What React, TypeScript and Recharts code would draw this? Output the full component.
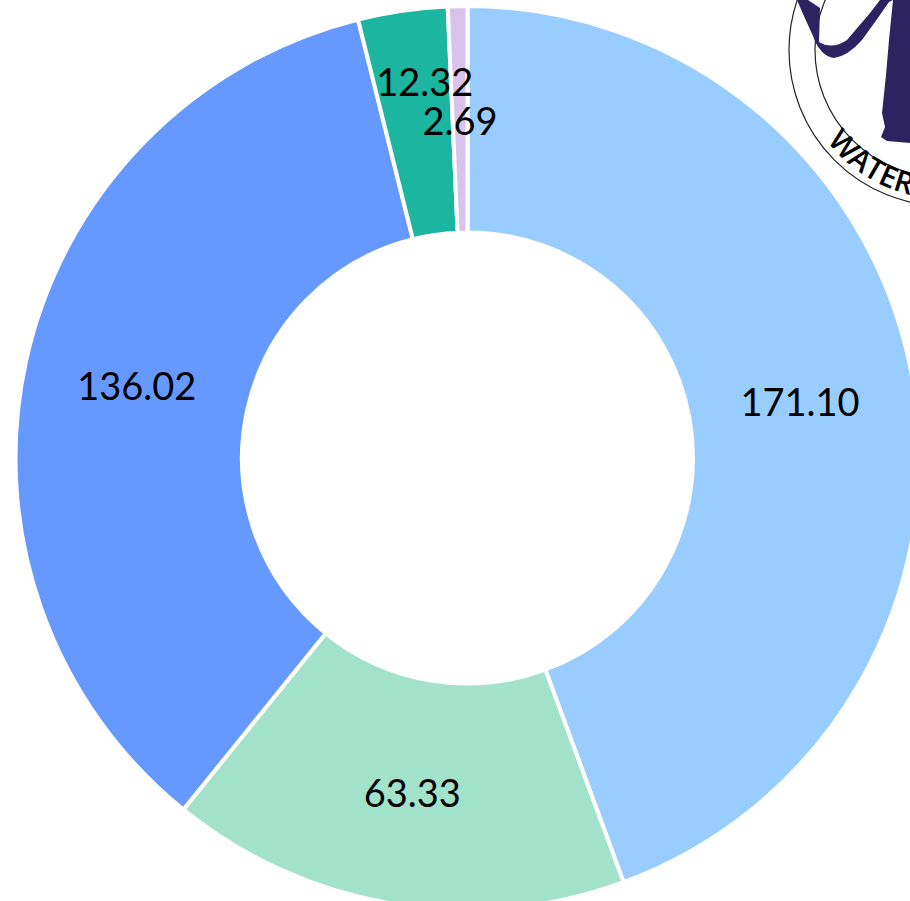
import React from "react";
import { PieChart, Pie, Cell } from "recharts";

const categories = ["A", "B", "C", "D", "E"];
const values = [171.1, 63.33, 136.02, 12.32, 2.69];
const valueLabels = ["171.10", "63.33", "136.02", "12.32", "2.69"];
const colors = ["#99CCFF", "#A3E2CA", "#6699FF", "#1BB5A0", "#D9C3EA"];
const labelNudges = [[-1, 2], [0, 0], [0, 0], [6, -42], [0, 1]];

const data = categories.map((name, i) => ({ name, value: values[i] }));
const RAD = Math.PI / 180;

function renderLabel(p: any) {
  const r = (p.innerRadius + p.outerRadius) / 2;
  const [dx, dy] = labelNudges[p.index];
  const x = p.cx + r * Math.cos(-p.midAngle * RAD) + dx;
  const y = p.cy + r * Math.sin(-p.midAngle * RAD) + dy;
  return (
    <text x={x} y={y} textAnchor="middle" dominantBaseline="central" fontFamily="Lato, sans-serif" fontSize={38} fill="#000000">
      {valueLabels[p.index]}
    </text>
  );
}

function Logo() {
  return (
    <svg width={910} height={901} style={{ position: "absolute", left: 0, top: 0, pointerEvents: "none" }}>
      <circle cx={945} cy={50} r={156} fill="none" stroke="#222" strokeWidth={1.2} />
      <circle cx={942} cy={50} r={127} fill="none" stroke="#222" strokeWidth={1.2} />
      <path
        d="M797 0 L803 14 L813 36 Q820 56 834 58 Q848 56 862 40 L875 22 L889 2 L893 0 L880 0 L870 13 L847 40 Q832 50 819 42 L820 8 L808 0 Z"
        fill="#2D2360"
      />
      <path
        d="M893 0 L889 40 L886 75 L882 113 L885 127 L881 137 L887 141 L910 143 L910 0 Z"
        fill="#2D2360"
      />
      <defs>
        <path id="logoArc" d="M 796 50 A 149 149 0 0 0 1094 50" />
      </defs>
      <text fontFamily="'Open Sans', sans-serif" fontWeight={600} fontSize={30} fill="#000">
        <textPath href="#logoArc" startOffset={98}>WATER</textPath>
      </text>
    </svg>
  );
}

export default function App() {
  return (
    <div style={{ position: "absolute", left: 0, top: 0, width: 910, height: 901, overflow: "hidden", background: "#fff" }}>
      <PieChart width={910} height={901} margin={{ top: 0, right: 0, bottom: 0, left: 0 }}>
        <Pie
          data={data}
          dataKey="value"
          cx={467.5}
          cy={458}
          innerRadius={225.5}
          outerRadius={452}
          startAngle={90}
          endAngle={-270}
          stroke="#FFFFFF"
          strokeWidth={4}
          label={renderLabel}
          labelLine={false}
          isAnimationActive={false}
        >
          {categories.map((c, i) => (
            <Cell key={c} fill={colors[i]} />
          ))}
        </Pie>
      </PieChart>
      <Logo />
    </div>
  );
}
